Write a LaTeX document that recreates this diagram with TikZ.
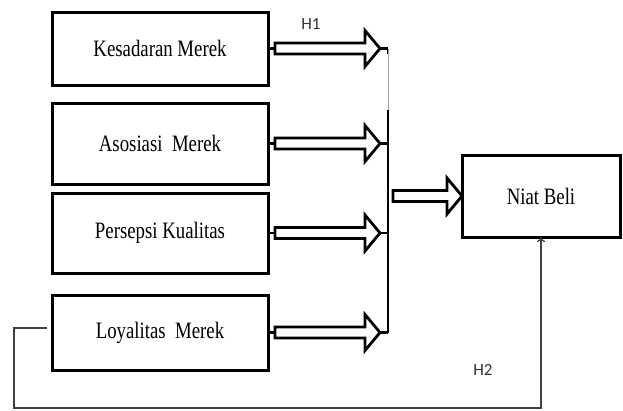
\documentclass[tikz,border=0pt]{standalone}
\usepackage{fontspec}
\setmainfont{Liberation Serif}
\newfontfamily\boxfont[FakeStretch=0.8]{Liberation Serif}
\newfontfamily\hypfont{Carlito}
\usetikzlibrary{positioning}
\usetikzlibrary{calc, arrows.meta}
\tikzset{var node/.style={draw,line width=3pt,minimum width=216pt,inner sep=0pt,outer sep=0pt,
            font=\boxfont\fontsize{23.5}{28}\selectfont},
         hyp label/.style={font=\hypfont\fontsize{17}{20}\selectfont,text=black!80},
         hollow/.style={draw,line width=2.8pt,fill=white,line join=miter},
         bus/.style={line width=2.5pt},
         fb line/.style={line width=1.2pt,black!75,-{To[length=5pt,width=8pt]}},
            }
\newcommand\blockarrow[2]{%
  \draw[hollow] let \p1=#1, \p2=#2 in
    (\x1,{\y1+5.5pt}) -- ({\x2-15pt},{\y1+5.5pt}) -- ({\x2-15pt},{\y1+18pt})
    -- (\x2,\y1) -- ({\x2-15pt},{\y1-18pt}) -- ({\x2-15pt},{\y1-5.5pt})
    -- (\x1,{\y1-5.5pt}) -- cycle;}

\begin{document}
\begin{tikzpicture}[x=1pt,y=-1pt]
 \useasboundingbox (0,0) rectangle (623,410);
 \node[var node,minimum height=73pt] (kes) at (160,48.5) {Kesadaran Merek};
 \node[var node,minimum height=81pt] (aso)[below=18pt of kes] {Asosiasi~ Merek};
 \node[var node,minimum height=80pt] (per)[below=9pt of aso] {Persepsi Kualitas};
 \node[var node,minimum height=75pt] (loy)[below=22pt of per] {Loyalitas~ Merek};
 \node[var node,minimum width=158pt,minimum height=82pt] (niat) at (541,196) {Niat Beli};

 \node[hyp label] (h1) at (311,24) {H1};
 \node[hyp label] (h2) at (483,370) {H2};

 \coordinate (tx) at (380,0);
 \coordinate (bx) at (388,0);
 \coordinate (bt) at (388,110);

 % arrows into the bus
 \foreach \v in {kes,aso,per,loy}{
   \draw[bus] (\v.east) -- ++(7,0);
   \blockarrow{($(\v.east)+(7,0)$)}{(\v.east -| tx)}
   \draw[bus] (\v.east -| tx) -- (\v.east -| bx);
 }
 \draw[bus] (kes.east -| bx) -- ++(0,5);
 \draw[gray!70,line width=0.8pt] (kes.east -| bx) -- (bt);
 \draw[bus] (bt) -- (loy.east -| bx);

 % bus to Niat Beli
 \blockarrow{($(bx |- niat.west)+(5,0)$)}{(niat.west)}

 % H2
 \coordinate (fb) at (47,328);
 \coordinate (fc) at (14,408);
 \draw[fb line] (fb) -| (fc) -| (niat.south);
\end{tikzpicture}
\end{document}
